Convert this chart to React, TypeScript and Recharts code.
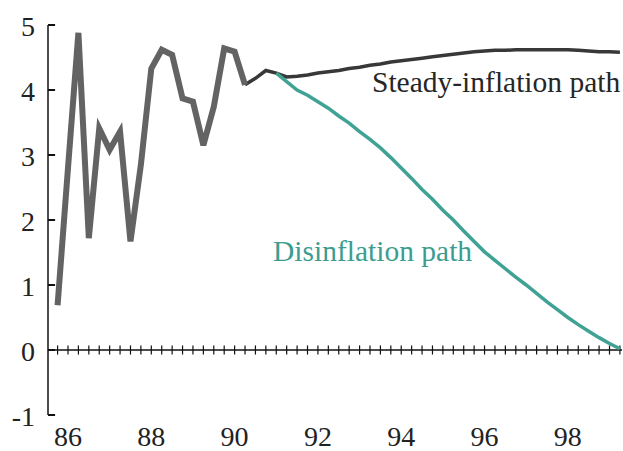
import { LineChart, Line, XAxis, YAxis, ReferenceLine } from 'recharts';

// axis ticks
const yearTicks = [86, 88, 90, 92, 94, 96, 98];
const valueTicks = [-1, 0, 1, 2, 3, 4, 5];
const X_MIN = 85.52;
const X_MAX = 99.3;

// actual inflation, quarterly
const historyQuarters = [
  85.75, 86, 86.25, 86.5, 86.75, 87, 87.25, 87.5, 87.75, 88, 88.25, 88.5, 88.75, 89, 89.25, 89.5,
  89.75, 90, 90.25,
];
const historyValues = [
  0.69, 2.8, 4.88, 1.72, 3.41, 3.08, 3.36, 1.67, 2.85, 4.33, 4.62, 4.54, 3.87, 3.82, 3.15, 3.74,
  4.64, 4.59, 4.08,
];

// steady-inflation path
const steadyQuarters = [
  90.25, 90.5, 90.75, 91, 91.25, 91.5, 91.75, 92, 92.25, 92.5, 92.75, 93, 93.25, 93.5, 93.75, 94,
  94.25, 94.5, 94.75, 95, 95.25, 95.5, 95.75, 96, 96.25, 96.5, 96.75, 97, 97.25, 97.5, 97.75, 98,
  98.25, 98.5, 98.75, 99, 99.25,
];
const steadyValues = [
  4.08, 4.18, 4.3, 4.26, 4.2, 4.21, 4.23, 4.26, 4.28, 4.3, 4.33, 4.35, 4.38, 4.4, 4.43, 4.45,
  4.47, 4.49, 4.51, 4.53, 4.55, 4.57, 4.59, 4.6, 4.61, 4.61, 4.62, 4.62, 4.62, 4.62, 4.62, 4.62,
  4.61, 4.6, 4.59, 4.59, 4.58,
];

// disinflation path
const disinflQuarters = [
  91, 91.25, 91.5, 91.75, 92, 92.25, 92.5, 92.75, 93, 93.25, 93.5, 93.75, 94, 94.25, 94.5, 94.75,
  95, 95.25, 95.5, 95.75, 96, 96.25, 96.5, 96.75, 97, 97.25, 97.5, 97.75, 98, 98.25, 98.5, 98.75,
  99, 99.25,
];
const disinflValues = [
  4.26, 4.13, 4.0, 3.92, 3.82, 3.72, 3.6, 3.49, 3.36, 3.24, 3.11, 2.96, 2.8, 2.64, 2.47, 2.32,
  2.15, 2.0, 1.83, 1.67, 1.51, 1.38, 1.25, 1.12, 1.0, 0.87, 0.74, 0.62, 0.5, 0.39, 0.29, 0.19,
  0.1, 0.02,
];

const zip = (xs: number[], ys: number[]) => xs.map((x, i) => ({ x, y: ys[i] }));
const historyData = zip(historyQuarters, historyValues);
const steadyData = zip(steadyQuarters, steadyValues);
const disinflData = zip(disinflQuarters, disinflValues);

// quarterly hash marks on the zero line
const quarterMarks = Array.from({ length: 55 }, (_, i) => 85.75 + i * 0.25);

const SERIF = '"Liberation Serif", "Times New Roman", serif';

export default function App() {
  return (
    <div style={{ position: 'absolute', left: 0, top: 0, width: 623, height: 451, background: '#fff' }}>
      <LineChart width={623} height={451} margin={{ top: 25, right: 1, left: 0, bottom: 0 }}>
        <XAxis
          type="number"
          dataKey="x"
          domain={[X_MIN, X_MAX]}
          ticks={yearTicks}
          axisLine={false}
          tickLine={false}
          tickSize={0}
          tickMargin={11}
          height={36}
          allowDataOverflow
          tick={{ fontSize: 28, fontFamily: SERIF, fill: '#222' }}
        />
        <YAxis
          type="number"
          domain={[-1, 5]}
          ticks={valueTicks}
          width={48}
          tickLine={false}
          tickSize={0}
          tickMargin={13}
          axisLine={{ stroke: '#111', strokeWidth: 1.5 }}
          tick={{ fontSize: 28, fontFamily: SERIF, fill: '#222', dy: 1 }}
        />
        {/* inward ticks on the value axis */}
        {valueTicks.map((v) => (
          <ReferenceLine
            key={'v' + v}
            segment={[
              { x: X_MIN, y: v },
              { x: X_MIN + 0.17, y: v },
            ]}
            stroke="#111"
            strokeWidth={2}
          />
        ))}
        <ReferenceLine y={0} stroke="#111" strokeWidth={1.5} />
        {quarterMarks.map((q) => (
          <ReferenceLine
            key={q}
            segment={[
              { x: q, y: -0.07 },
              { x: q, y: 0.07 },
            ]}
            stroke="#111"
            strokeWidth={1.2}
          />
        ))}
        <Line
          data={steadyData}
          dataKey="y"
          type="linear"
          stroke="#383838"
          strokeWidth={3.5}
          dot={false}
          isAnimationActive={false}
        />
        <Line
          data={disinflData}
          dataKey="y"
          type="linear"
          stroke="#3fa294"
          strokeWidth={3.5}
          dot={false}
          isAnimationActive={false}
        />
        <Line
          data={historyData}
          dataKey="y"
          type="linear"
          stroke="#636363"
          strokeWidth={6}
          strokeLinejoin="miter"
          dot={false}
          isAnimationActive={false}
        />
        <text x={372} y={92} fontSize={29.5} fontFamily={SERIF} fill="#262626">
          Steady-inflation path
        </text>
        <text x={273} y={261} fontSize={29.5} fontFamily={SERIF} fill="#3c9d8f">
          Disinflation path
        </text>
      </LineChart>
    </div>
  );
}
